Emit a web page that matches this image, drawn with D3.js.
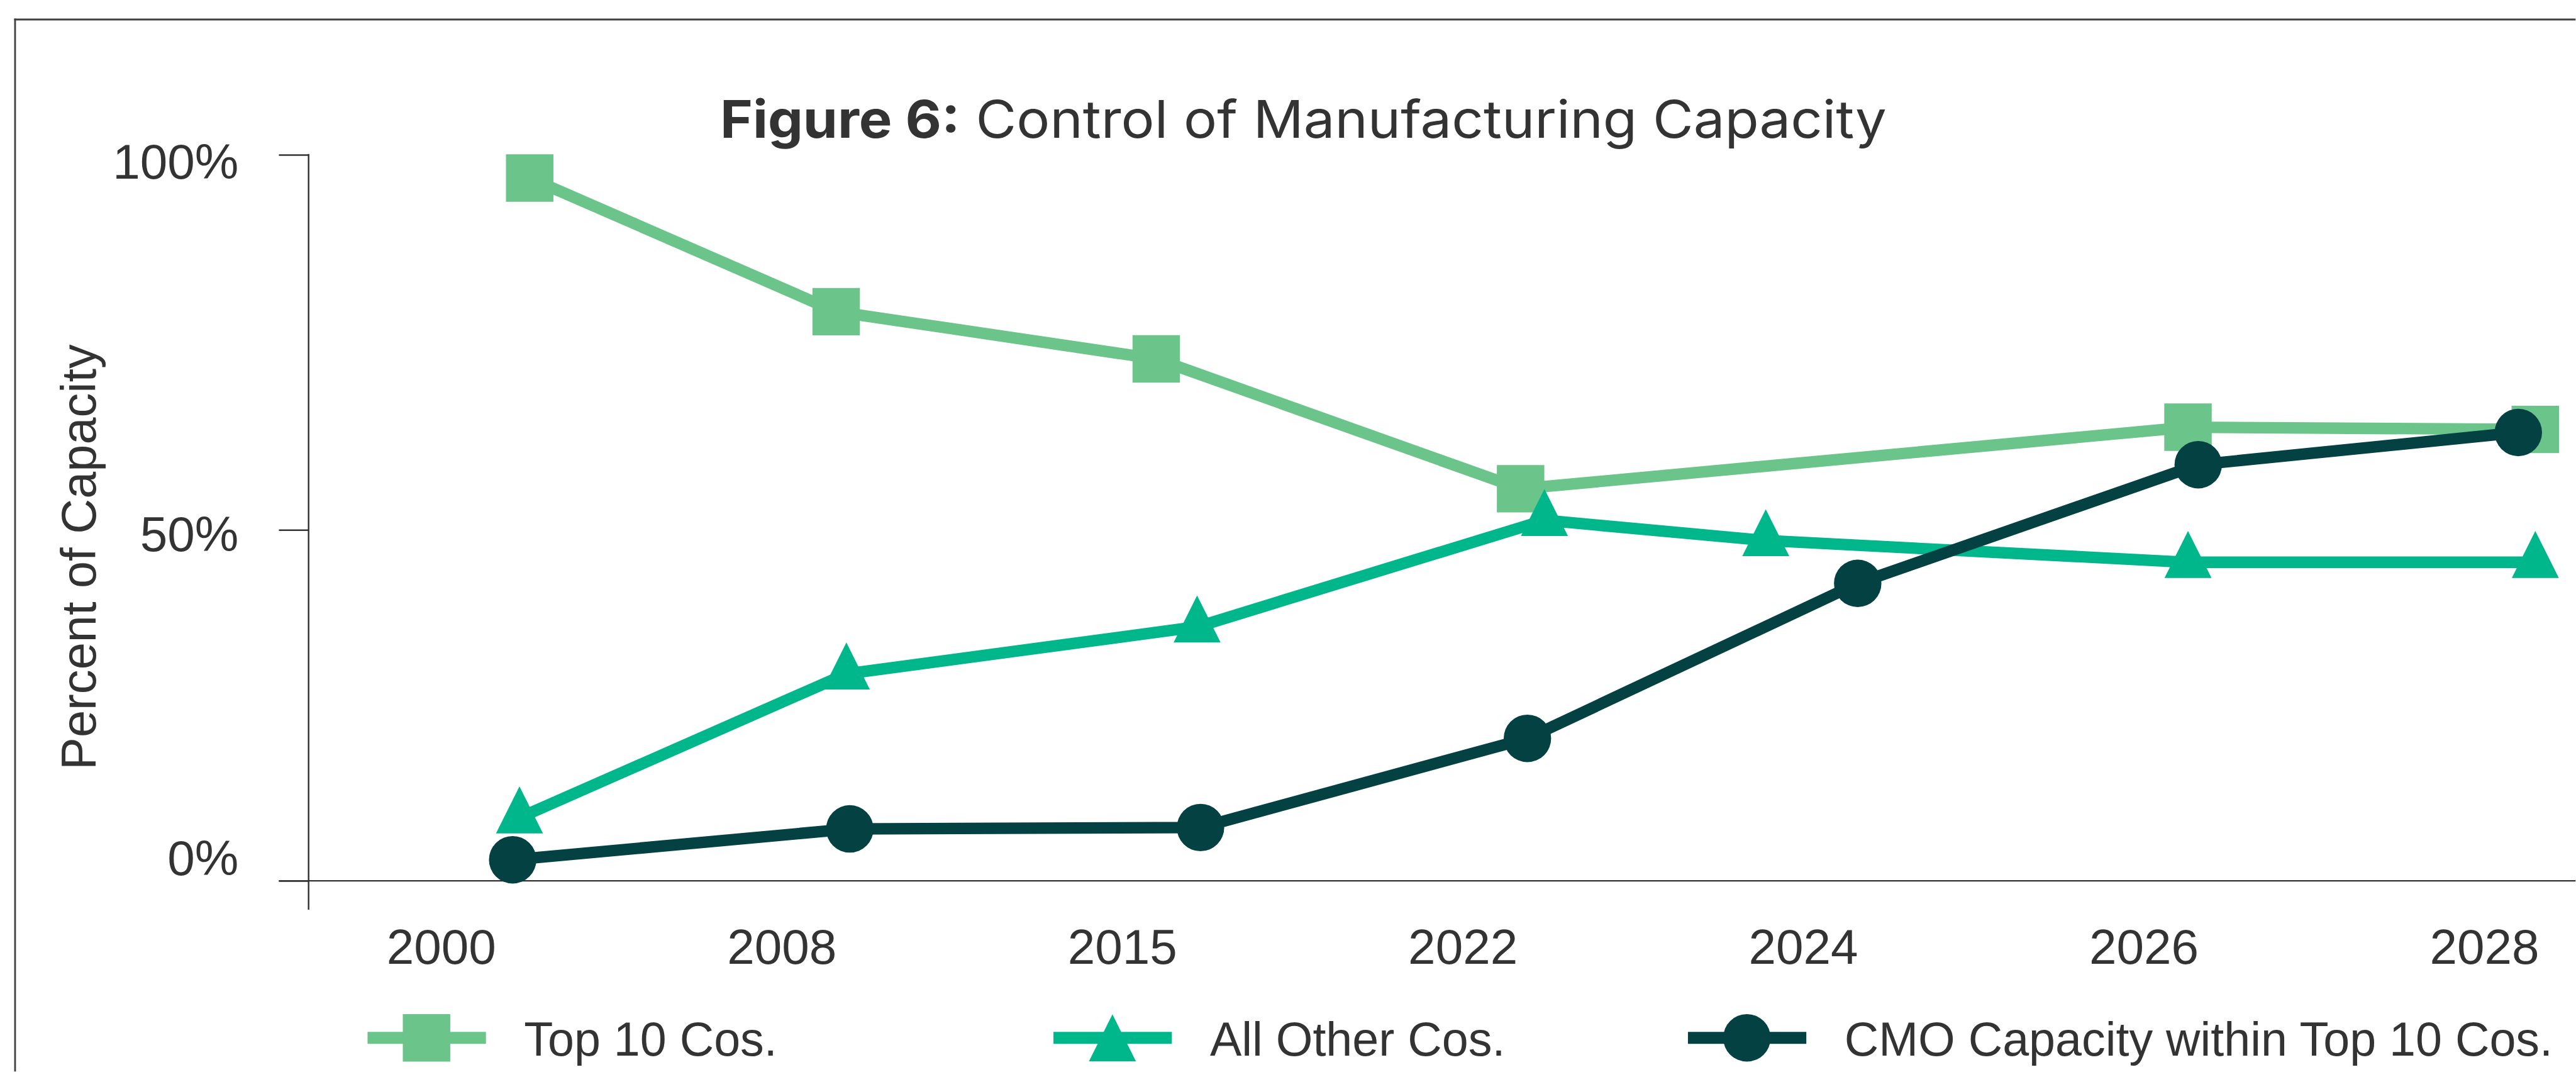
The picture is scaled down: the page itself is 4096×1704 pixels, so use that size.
<!DOCTYPE html>
<html>
<head>
<meta charset="utf-8">
<script src="https://cdn.jsdelivr.net/npm/d3@7"></script>
<style>
  html, body { margin: 0; padding: 0; background: #ffffff; overflow: hidden; }
  svg { display: block; }
</style>
</head>
<body>
<svg id="chart" width="4096" height="1704"></svg>
<script>
// ---- data ----
const years = ["2000", "2008", "2015", "2022", "2024", "2026", "2028"];
const yTicks = [0, 50, 100];
const seriesNames = ["Top 10 Cos.", "All Other Cos.", "CMO Capacity within Top 10 Cos."];

// share of manufacturing capacity (%) per year; null = no reading
const top10Share = [96.9, 79.1, 72.8, 55.5, null, 63.7, 63.4];
const otherShare = [9.0, 29.5, 36.2, 51.3, 48.5, 45.4, 45.4];
const cmoShare   = [3.0, 7.4, 7.6, 20.3, 42.4, 58.7, 63.0];

// where each reading falls along the year axis, in year-slot units
const top10Slot = [0.26, 1.16, 2.10, 3.17, null, 5.13, 6.15];
const otherSlot = [0.23, 1.19, 2.22, 3.24, 3.89, 5.13, 6.15];
const cmoSlot   = [0.21, 1.20, 2.23, 3.19, 4.16, 5.16, 6.10];

// ---- layout (drawn in a 5809 x 2416 space, scaled to the window) ----
const W = 5809, H = 2416, S = 0.705;
const TEXT = "#333333";
const SANS = "'Liberation Sans', Arial, Helvetica, sans-serif";

const svg = d3.select("#chart");
const root = svg.append("g").attr("transform", `scale(${S})`);

// frame (top and left edges)
root.append("line").attr("x1", 32).attr("x2", W).attr("y1", 44).attr("y2", 44)
  .attr("stroke", "#404040").attr("stroke-width", 4);
root.append("line").attr("x1", 34).attr("x2", 34).attr("y1", 42).attr("y2", H)
  .attr("stroke", "#404040").attr("stroke-width", 4);

// scales
const x = d3.scaleLinear().domain([0, years.length - 1]).range([995, 5603]);
const y = d3.scaleLinear().domain([0, 50, 100]).range([1986, 1195, 349]);
const yLabelPos = d3.scaleLinear().domain([0, 50, 100]).range([1973, 1242, 402]);

// title
const title = root.append("text")
  .attr("x", 1624).attr("y", 311)
  .attr("font-family", "Inter, 'Open Sans', sans-serif")
  .attr("font-size", 117)
  .attr("fill", TEXT)
  .attr("textLength", 2631)
  .attr("lengthAdjust", "spacingAndGlyphs");
title.append("tspan").attr("font-weight", 700).text("Figure 6:");
title.append("tspan").attr("font-weight", 400).text(" Control of Manufacturing Capacity");

// y axis: ticks
const yAxisX = 696;
const yTickAxis = root.append("g")
  .attr("transform", `translate(${yAxisX},0)`)
  .call(d3.axisLeft(y).tickValues(yTicks).tickSize(67).tickFormat(""));
yTickAxis.select(".domain").remove();
yTickAxis.selectAll(".tick line").attr("stroke", "#333").attr("stroke-width", 3.5);

// y axis: spine, running slightly past the baseline
root.append("line")
  .attr("x1", yAxisX).attr("x2", yAxisX)
  .attr("y1", y(100) - 2).attr("y2", y(0) + 65)
  .attr("stroke", "#333").attr("stroke-width", 3.5);

// y axis: labels
const yLabelAxis = root.append("g")
  .attr("transform", "translate(538,0)")
  .call(d3.axisLeft(yLabelPos).tickValues(yTicks).tickSize(0).tickPadding(0)
    .tickFormat(d => d + "%"));
yLabelAxis.select(".domain").remove();
yLabelAxis.selectAll("text")
  .attr("dy", 0).attr("x", 0)
  .attr("font-family", SANS).attr("font-size", 111).attr("fill", TEXT);

// y axis title
root.append("text")
  .attr("transform", "translate(216,1256) rotate(-90)")
  .attr("text-anchor", "middle")
  .attr("font-family", SANS).attr("font-size", 110).attr("fill", TEXT)
  .text("Percent of Capacity");

// x axis line (extends left to meet the 0% tick)
root.append("line")
  .attr("x1", 629).attr("x2", W)
  .attr("y1", y(0)).attr("y2", y(0))
  .attr("stroke", "#333").attr("stroke-width", 3.5);

// x axis labels
const xAxis = root.append("g")
  .attr("transform", "translate(0,2173)")
  .call(d3.axisBottom(x).tickValues(d3.range(years.length)).tickSize(0).tickPadding(0)
    .tickFormat(i => years[i]));
xAxis.select(".domain").remove();
xAxis.selectAll("text")
  .attr("dy", 0).attr("y", 0)
  .attr("font-family", SANS).attr("font-size", 111).attr("fill", TEXT);

// marker shapes
const MARK = 107;
const symbolTri = {
  draw(ctx, size) {
    const s = Math.sqrt(size);
    ctx.moveTo(0, -2 * s / 3);
    ctx.lineTo(s / 2, s / 3);
    ctx.lineTo(-s / 2, s / 3);
    ctx.closePath();
  }
};
const series = [
  { name: seriesNames[0], values: top10Share, slot: top10Slot, color: "#6BC48A",
    symbol: d3.symbolSquare, size: MARK * MARK, legendDy: 0 },
  { name: seriesNames[1], values: otherShare, slot: otherSlot, color: "#00B68B",
    symbol: symbolTri, size: 106 * 106, legendDy: 106 / 6 },
  { name: seriesNames[2], values: cmoShare, slot: cmoSlot, color: "#034143",
    symbol: d3.symbolCircle, size: Math.PI * 53.5 * 53.5, legendDy: 0 }
];

const line = d3.line().x(d => x(d.slot)).y(d => y(d.value));

series.forEach(s => {
  const pts = s.values
    .map((v, i) => ({ value: v, slot: s.slot[i], year: years[i] }))
    .filter(d => d.value != null);
  const g = root.append("g");
  g.append("path")
    .datum(pts)
    .attr("d", line)
    .attr("fill", "none")
    .attr("stroke", s.color)
    .attr("stroke-width", 26)
    .attr("stroke-linejoin", "round");
  g.selectAll("path.mark")
    .data(pts)
    .join("path")
    .attr("class", "mark")
    .attr("transform", d => `translate(${x(d.slot)},${y(d.value)})`)
    .attr("d", d3.symbol(s.symbol, s.size))
    .attr("fill", s.color);
});

// legend
const legendX = [829, 2376, 3807];
const legendY = 2340;
const legend = root.append("g");
series.forEach((s, i) => {
  const g = legend.append("g").attr("transform", `translate(${legendX[i]},${legendY})`);
  g.append("line")
    .attr("x1", 0).attr("x2", 267).attr("y1", 0).attr("y2", 0)
    .attr("stroke", s.color).attr("stroke-width", 27);
  g.append("path")
    .attr("transform", `translate(133,${s.legendDy})`)
    .attr("d", d3.symbol(s.symbol, s.size))
    .attr("fill", s.color);
  g.append("text")
    .attr("x", 353).attr("y", 40)
    .attr("font-family", SANS).attr("font-size", 107).attr("fill", TEXT)
    .text(s.name);
});
</script>
</body>
</html>
